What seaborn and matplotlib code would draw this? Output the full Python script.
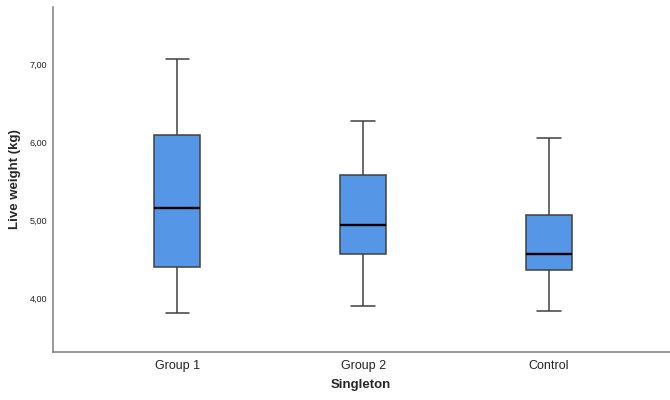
import matplotlib
matplotlib.use("Agg")
import matplotlib.pyplot as plt
import seaborn as sns
import pandas as pd
from matplotlib.ticker import FuncFormatter

# Five-number summaries: [min, Q1, median, Q3, max]
categories = ["Group 1", "Group 2", "Control"]
group1 = [3.80, 4.40, 5.15, 6.10, 7.07]
group2 = [3.90, 4.56, 4.94, 5.58, 6.27]
control = [3.83, 4.36, 4.56, 5.06, 6.05]
y_ticks = [4.0, 5.0, 6.0, 7.0]

rows = []
for cat, vals in zip(categories, [group1, group2, control]):
    for v in vals:
        rows.append({"Singleton": cat, "Live weight (kg)": v})
df = pd.DataFrame(rows)

sns.set_theme(style="white")
plt.rcParams["font.family"] = ["Liberation Sans", "DejaVu Sans"]

fig = plt.figure(figsize=(6.7, 4.0), dpi=100)
ax = fig.add_axes([0.0784, 0.121, 0.9216, 0.8615])

sns.boxplot(data=df, x="Singleton", y="Live weight (kg)", order=categories,
            color="#5596e6", saturation=1, width=0.25, whis=(0, 100),
            linecolor="#404040", linewidth=1.1,
            medianprops={"color": "black", "linewidth": 1.7},
            ax=ax)

ax.set_xlim(-0.67, 2.65)
ax.set_ylim(3.31, 7.74)
ax.set_yticks(y_ticks)
ax.yaxis.set_major_formatter(FuncFormatter(lambda v, p: f"{v:.2f}".replace(".", ",")))
ax.tick_params(axis="y", length=0, labelsize=6.5, pad=4, labelcolor="#222222")
ax.tick_params(axis="x", length=0, labelsize=9, pad=6, labelcolor="#222222")
ax.set_xlabel("Singleton", fontsize=9.5, fontweight="bold", labelpad=5)
ax.set_ylabel("Live weight (kg)", fontsize=9.5, fontweight="bold", labelpad=6)

for s in ["top", "right"]:
    ax.spines[s].set_visible(False)
for s in ["left", "bottom"]:
    ax.spines[s].set_color("#888888")
    ax.spines[s].set_linewidth(1.2)

fig.savefig("out.png", dpi=100)
